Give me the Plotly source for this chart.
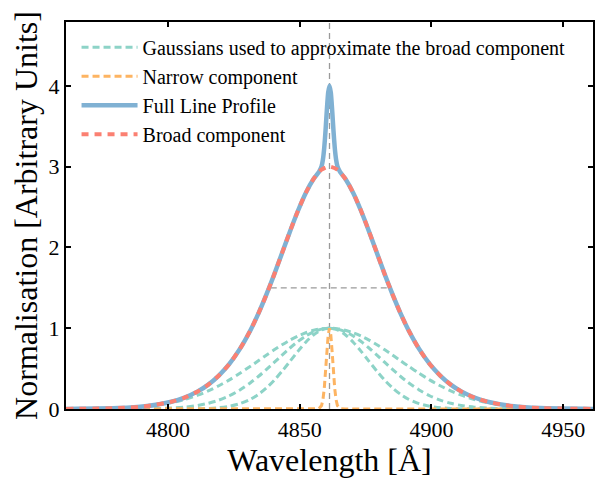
import plotly.graph_objects as go

# ---- data ----
wl_broad = [4761.3, 4781.3, 4791.3, 4801.3, 4806.3, 4811.3, 4815.3, 4819.3, 4823.3, 4827.3,
            4831.3, 4834.3, 4837.3, 4840.3, 4843.3, 4846.3, 4849.3, 4852.3, 4855.3, 4858.3,
            4861.3,
            4864.3, 4867.3, 4870.3, 4873.3, 4876.3, 4879.3, 4882.3, 4885.3, 4888.3, 4891.3,
            4895.3, 4899.3, 4903.3, 4907.3, 4911.3, 4916.3, 4921.3, 4931.3, 4941.3, 4961.3]

gauss_1 = [0.0, 0.0, 0.0, 0.0002, 0.0008, 0.0028, 0.007, 0.016, 0.034, 0.066,
           0.121, 0.181, 0.259, 0.355, 0.468, 0.590, 0.713, 0.827, 0.919, 0.979,
           1.0,
           0.979, 0.919, 0.827, 0.713, 0.590, 0.468, 0.355, 0.259, 0.181, 0.121,
           0.066, 0.034, 0.016, 0.007, 0.0028, 0.0008, 0.0002, 0.0, 0.0, 0.0]
gauss_2 = [0.0, 0.0003, 0.0022, 0.011, 0.023, 0.044, 0.071, 0.110, 0.164, 0.236,
           0.325, 0.402, 0.487, 0.576, 0.667, 0.755, 0.835, 0.904, 0.956, 0.989,
           1.0,
           0.989, 0.956, 0.904, 0.835, 0.755, 0.667, 0.576, 0.487, 0.402, 0.325,
           0.236, 0.164, 0.110, 0.071, 0.044, 0.023, 0.011, 0.0022, 0.0003, 0.0]
gauss_3 = [0.001, 0.011, 0.031, 0.079, 0.118, 0.171, 0.224, 0.288, 0.360, 0.442,
           0.529, 0.597, 0.666, 0.732, 0.795, 0.853, 0.903, 0.944, 0.975, 0.994,
           1.0,
           0.994, 0.975, 0.944, 0.903, 0.853, 0.795, 0.732, 0.666, 0.597, 0.529,
           0.442, 0.360, 0.288, 0.224, 0.171, 0.118, 0.079, 0.031, 0.011, 0.001]
broad = [0.001, 0.011, 0.033, 0.090, 0.142, 0.218, 0.302, 0.414, 0.558, 0.744,
         0.975, 1.180, 1.412, 1.663, 1.930, 2.198, 2.451, 2.675, 2.850, 2.962,
         3.000,
         2.962, 2.850, 2.675, 2.451, 2.198, 1.930, 1.663, 1.412, 1.180, 0.975,
         0.744, 0.558, 0.414, 0.302, 0.218, 0.142, 0.090, 0.033, 0.011, 0.001]

wl_narrow = [4761.3, 4855.3, 4857.3, 4858.3, 4858.8, 4859.3, 4859.8, 4860.3, 4860.8, 4861.3,
             4861.8, 4862.3, 4862.8, 4863.3, 4863.8, 4864.3, 4865.3, 4867.3, 4961.3]
narrow = [0.0, 0.0, 0.004, 0.044, 0.114, 0.249, 0.458, 0.707, 0.917, 1.0,
          0.917, 0.707, 0.458, 0.249, 0.114, 0.044, 0.004, 0.0, 0.0]

wl_full = [4761.3, 4781.3, 4791.3, 4801.3, 4806.3, 4811.3, 4815.3, 4819.3, 4823.3, 4827.3,
           4831.3, 4834.3, 4837.3, 4840.3, 4843.3, 4846.3, 4849.3, 4852.3, 4855.3, 4857.3,
           4858.3, 4858.8, 4859.3, 4859.8, 4860.3, 4860.8, 4861.3, 4861.8, 4862.3, 4862.8,
           4863.3, 4863.8, 4864.3, 4865.3,
           4867.3, 4870.3, 4873.3, 4876.3, 4879.3, 4882.3, 4885.3, 4888.3, 4891.3,
           4895.3, 4899.3, 4903.3, 4907.3, 4911.3, 4916.3, 4921.3, 4931.3, 4941.3, 4961.3]
full = [0.001, 0.011, 0.033, 0.090, 0.142, 0.218, 0.302, 0.414, 0.558, 0.744,
        0.975, 1.180, 1.412, 1.663, 1.930, 2.198, 2.451, 2.675, 2.850, 2.935,
        3.006, 3.087, 3.232, 3.448, 3.703, 3.916, 4.000, 3.916, 3.703, 3.448,
        3.232, 3.087, 3.006, 2.935,
        2.850, 2.675, 2.451, 2.198, 1.930, 1.663, 1.412, 1.180, 0.975,
        0.744, 0.558, 0.414, 0.302, 0.218, 0.142, 0.090, 0.033, 0.011, 0.001]

line_centre = 4861.3
fwhm_edges = [4839.0, 4883.2]
half_max = 1.5
y_top = 4.79
x_range = [4761.3, 4961.3]

x_ticks = [4800, 4850, 4900, 4950]
y_ticks = [0, 1, 2, 3, 4]

GREEN = "#8dd3c7"
ORANGE = "#fdb462"
BLUE = "#80b1d3"
RED = "#fb8072"
GREY = "#9a9a9a"
FONT = "Liberation Serif, Times New Roman, serif"

fig = go.Figure()

# guide lines
fig.add_trace(go.Scatter(x=[line_centre, line_centre], y=[0, y_top], mode="lines",
                         line=dict(color=GREY, width=1.3, dash="6px,4px"),
                         showlegend=False, hoverinfo="skip"))
fig.add_trace(go.Scatter(x=fwhm_edges, y=[half_max, half_max], mode="lines",
                         line=dict(color=GREY, width=1.3, dash="6px,4px"),
                         showlegend=False, hoverinfo="skip"))

for i, g in enumerate([gauss_1, gauss_2, gauss_3]):
    fig.add_trace(go.Scatter(x=wl_broad, y=g, mode="lines",
                             line=dict(color=GREEN, width=3, dash="7px,4px", shape="spline", smoothing=0.8),
                             name="Gaussians used to approximate the broad component",
                             legendgroup="g", showlegend=(i == 0)))

fig.add_trace(go.Scatter(x=wl_narrow, y=narrow, mode="lines",
                         line=dict(color=ORANGE, width=3, dash="7px,4px"),
                         name="Narrow component", legendgroup="n"))

fig.add_trace(go.Scatter(x=wl_full, y=full, mode="lines",
                         line=dict(color=BLUE, width=4.5, shape="spline", smoothing=0.5),
                         name="Full Line Profile", legendgroup="f"))

fig.add_trace(go.Scatter(x=wl_broad, y=broad, mode="lines",
                         line=dict(color=RED, width=4, dash="7px,6px", shape="spline", smoothing=0.8),
                         name="Broad component", legendgroup="b"))

axis_common = dict(showline=True, linecolor="black", linewidth=2, mirror="ticks",
                   ticks="inside", ticklen=5, tickwidth=1.5, tickcolor="black",
                   showgrid=False, zeroline=False,
                   tickfont=dict(family=FONT, size=22, color="black"))

fig.update_xaxes(range=x_range, tickvals=x_ticks,
                 title=dict(text="Wavelength [Å]", font=dict(family=FONT, size=32, color="black"), standoff=6),
                 **axis_common)
fig.update_yaxes(range=[0, y_top], tickvals=y_ticks,
                 title=dict(text="Normalisation [Arbitrary Units]", font=dict(family=FONT, size=32, color="black"), standoff=1),
                 **axis_common)

fig.update_layout(
    width=597, height=484,
    margin=dict(l=66, r=2, t=22, b=75),
    paper_bgcolor="white", plot_bgcolor="white",
    font=dict(family=FONT, color="black"),
    legend=dict(x=0.02, y=0.985, xanchor="left", yanchor="top",
                bgcolor="rgba(0,0,0,0)", font=dict(family=FONT, size=20, color="black"),
                traceorder="grouped", tracegroupgap=0, itemwidth=56),
)

fig.write_html("out.html", config={"displayModeBar": False},
               post_script="document.body.style.margin='0';document.body.style.padding='0';document.body.style.overflow='hidden';")
